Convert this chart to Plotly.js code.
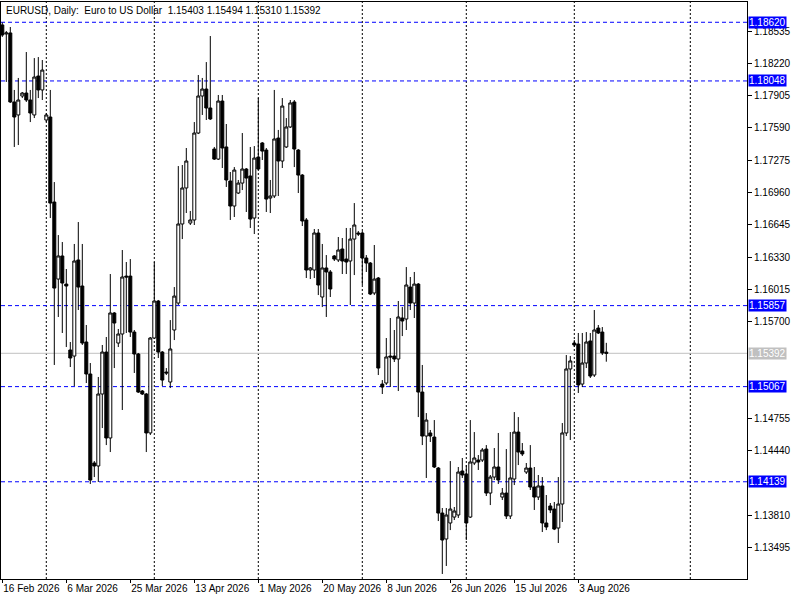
<!DOCTYPE html>
<html><head><meta charset="utf-8">
<script src="https://cdn.plot.ly/plotly-3.0.1.min.js"></script>
<style>html,body{margin:0;padding:0;background:#fff;} #chart{width:800px;height:600px;}</style>
</head><body><div id="chart"></div>
<script>
const chartTitle = "EURUSD, Daily:  Euro to US Dollar  1.15403 1.15494 1.15310 1.15392";
const firstBarDate = "2026-02-16";
const openP = [1.18594,1.18506,1.18516,1.17843,1.17716,1.17901,1.17930,1.17862,1.17716,1.18096,1.17960,1.17667,1.17696,1.16867,1.16116,1.16341,1.16067,1.15424,1.15365,1.16302,1.16048,1.15502,1.15190,1.14322,1.14293,1.14995,1.15404,1.14566,1.15785,1.15492,1.15580,1.16145,1.16145,1.15599,1.15385,1.15024,1.14995,1.14615,1.15541,1.15902,1.15404,1.15209,1.15112,1.15619,1.15882,1.16653,1.17004,1.16662,1.16692,1.17540,1.17901,1.17969,1.17784,1.17384,1.17286,1.17852,1.17404,1.17072,1.16828,1.16955,1.17052,1.17189,1.17121,1.16711,1.17306,1.17443,1.17374,1.16906,1.16926,1.17491,1.17267,1.17404,1.17599,1.17843,1.17374,1.17130,1.16692,1.16204,1.16204,1.16565,1.15941,1.16224,1.16185,1.16341,1.16302,1.16409,1.16311,1.16292,1.16506,1.16565,1.16565,1.16321,1.16272,1.15980,1.16126,1.15092,1.15102,1.15365,1.15365,1.15336,1.15736,1.15726,1.16038,1.15882,1.16067,1.15014,1.14585,1.14615,1.14575,1.14273,1.13834,1.13581,1.13737,1.13795,1.13815,1.14244,1.14215,1.13795,1.14322,1.14351,1.14351,1.14458,1.14029,1.14185,1.14283,1.13990,1.14029,1.13805,1.14166,1.14624,1.14439,1.14234,1.14273,1.14088,1.13990,1.14098,1.13737,1.13903,1.13873,1.13688,1.13922,1.14615,1.15239,1.15492,1.15482,1.15092,1.15297,1.15512,1.15180,1.15638,1.15599,1.15403];
const highP = [1.18618,1.18535,1.18574,1.17960,1.18077,1.17940,1.18330,1.17960,1.18271,1.18281,1.18252,1.17735,1.17960,1.17062,1.16545,1.16477,1.16214,1.15502,1.16458,1.16672,1.16458,1.15668,1.15297,1.14341,1.15161,1.15473,1.15551,1.16165,1.15794,1.15629,1.16399,1.16282,1.16311,1.15619,1.15395,1.15034,1.15005,1.15551,1.16282,1.15912,1.15414,1.15248,1.15716,1.16038,1.17218,1.17228,1.17394,1.16780,1.17647,1.18106,1.18077,1.18232,1.18486,1.17404,1.17911,1.17911,1.17628,1.17160,1.17208,1.17082,1.17540,1.17199,1.17404,1.17413,1.17881,1.17452,1.17394,1.17082,1.17960,1.17570,1.17881,1.17686,1.17862,1.17862,1.17384,1.17140,1.16711,1.16233,1.16604,1.16604,1.16458,1.16350,1.16204,1.16350,1.16526,1.16516,1.16614,1.16614,1.16857,1.16584,1.16584,1.16350,1.16282,1.16448,1.16136,1.15131,1.15541,1.15736,1.15619,1.15902,1.15843,1.16233,1.16136,1.16185,1.16077,1.15278,1.14809,1.14644,1.14741,1.14283,1.13883,1.13883,1.14341,1.13893,1.14283,1.14371,1.14302,1.14741,1.14624,1.14400,1.14468,1.14497,1.14205,1.14468,1.14615,1.14078,1.14458,1.14624,1.14819,1.14770,1.14517,1.14322,1.14497,1.14283,1.14205,1.14185,1.14010,1.13932,1.13942,1.14185,1.14712,1.15375,1.15365,1.15521,1.15590,1.15590,1.15599,1.15590,1.15814,1.15668,1.15648,1.15494];
const lowP = [1.18477,1.18038,1.17833,1.17404,1.17423,1.17881,1.17843,1.17647,1.17686,1.17881,1.17862,1.17647,1.16711,1.15278,1.15746,1.15590,1.15453,1.15258,1.15073,1.15814,1.15473,1.15102,1.14117,1.14185,1.14137,1.14663,1.14497,1.14429,1.15248,1.15453,1.14839,1.15590,1.15551,1.15200,1.15005,1.14985,1.14429,1.14595,1.15531,1.15346,1.15073,1.15180,1.15053,1.15521,1.15863,1.16506,1.16760,1.16643,1.16643,1.17530,1.17716,1.17667,1.17667,1.17277,1.17277,1.17199,1.17014,1.16692,1.16721,1.16945,1.16984,1.16770,1.16614,1.16555,1.17179,1.17277,1.16770,1.16760,1.16906,1.16926,1.17199,1.17394,1.17589,1.17208,1.16955,1.16633,1.16126,1.16116,1.16126,1.15960,1.15843,1.15746,1.15941,1.16292,1.16282,1.16165,1.16165,1.15863,1.16155,1.16536,1.16058,1.16185,1.15960,1.15960,1.15180,1.14995,1.15083,1.15063,1.15307,1.15024,1.15560,1.15619,1.15814,1.15736,1.14770,1.14497,1.14176,1.14527,1.14273,1.13756,1.13240,1.13318,1.13668,1.13766,1.13786,1.14176,1.13571,1.13786,1.14302,1.14254,1.14332,1.14000,1.13912,1.14156,1.14117,1.13961,1.13776,1.13776,1.14107,1.14302,1.14390,1.14215,1.14059,1.13864,1.13961,1.13649,1.13668,1.13834,1.13668,1.13542,1.13747,1.14585,1.14546,1.15453,1.15005,1.15063,1.15248,1.15151,1.15161,1.15580,1.15375,1.15310];
const closeP = [1.18496,1.18516,1.17843,1.17696,1.17862,1.17930,1.17862,1.17735,1.18086,1.17960,1.18154,1.17716,1.16857,1.16028,1.16341,1.16077,1.16048,1.15346,1.16292,1.16038,1.15492,1.15190,1.14156,1.14293,1.14995,1.15404,1.14566,1.15785,1.15687,1.15580,1.16136,1.16136,1.15599,1.15385,1.15014,1.14995,1.14615,1.15541,1.15902,1.15404,1.15131,1.15200,1.15434,1.15950,1.16653,1.17004,1.17267,1.16692,1.17540,1.17901,1.17969,1.17784,1.17677,1.17286,1.17852,1.17394,1.17082,1.16828,1.17179,1.17052,1.17189,1.17101,1.16701,1.17296,1.17189,1.17364,1.16896,1.16926,1.17482,1.17267,1.17803,1.17599,1.17833,1.17384,1.17130,1.16682,1.16204,1.16224,1.16565,1.16058,1.16224,1.16185,1.16019,1.16311,1.16399,1.16292,1.16282,1.16506,1.16643,1.16555,1.16321,1.16272,1.15970,1.16116,1.15248,1.15063,1.15356,1.15356,1.15336,1.15746,1.15707,1.16058,1.15882,1.16067,1.15014,1.14585,1.14741,1.14585,1.14283,1.13834,1.13571,1.13815,1.13873,1.13854,1.14234,1.14205,1.13737,1.14332,1.14371,1.14332,1.14449,1.14029,1.14185,1.14283,1.14156,1.14029,1.13805,1.14176,1.14624,1.14429,1.14410,1.14273,1.14088,1.13990,1.14098,1.13737,1.13698,1.13864,1.13678,1.13922,1.14615,1.15239,1.15317,1.15473,1.15083,1.15297,1.15502,1.15170,1.15619,1.15590,1.15395,1.15392];
const levelLines = [1.18620, 1.18048, 1.15857, 1.15067, 1.14139];
const bidPrice = 1.15392;
const priceTicks = [1.18535,1.18220,1.17905,1.17590,1.17275,1.16960,1.16645,1.16330,1.16015,1.15700,1.14755,1.14440,1.13810,1.13495];
const monthNames = ["Jan","Feb","Mar","Apr","May","Jun","Jul","Aug","Sep","Oct","Nov","Dec"];

// bar dates: the feed prints a bar for every day except Saturday
const barDates = [];
{
  let d = new Date(firstBarDate + "T00:00:00Z");
  while (barDates.length < closeP.length) {
    if (d.getUTCDay() !== 6) barDates.push(new Date(d));
    d = new Date(d.getTime() + 86400000);
  }
}
const idx = barDates.map((_, i) => i);
const labelStep = 16;
const tickIdx = idx.filter(i => i % labelStep === 0);
const tickTxt = tickIdx.map(i => { const d = barDates[i]; return d.getUTCDate() + " " + monthNames[d.getUTCMonth()] + " " + d.getUTCFullYear(); });
const monthStarts = idx.filter(i => i > 0 && barDates[i].getUTCMonth() !== barDates[i-1].getUTCMonth());
const extraGridBar = 172;
const gridBars = monthStarts.concat([extraGridBar]);

const FONT = "Liberation Sans, Arial, sans-serif";
const BLUE = "#0000ff";

const trace = {
  type: "candlestick", x: idx, open: openP, high: highP, low: lowP, close: closeP,
  increasing: {line: {color: "#000", width: 1}, fillcolor: "#fff"},
  decreasing: {line: {color: "#000", width: 1}, fillcolor: "#000"},
  whiskerwidth: 0, hoverinfo: "skip", showlegend: false
};

const shapes = [];
gridBars.forEach(b => shapes.push({type: "line", xref: "x", yref: "paper", x0: b, x1: b, y0: 0, y1: 1,
  line: {color: "#000", width: 1, dash: "2px,2px"}, layer: "below"}));
levelLines.forEach(p => shapes.push({type: "line", xref: "paper", yref: "y", x0: 0, x1: 1, y0: p, y1: p,
  line: {color: BLUE, width: 1, dash: "4px,3px"}, layer: "below"}));
shapes.push({type: "line", xref: "paper", yref: "y", x0: 0, x1: 1, y0: bidPrice, y1: bidPrice,
  line: {color: "#c0c0c0", width: 1}, layer: "below"});

const annotations = [];
levelLines.forEach(p => annotations.push({xref: "paper", yref: "y", x: 1, y: p, xanchor: "left", yanchor: "middle",
  xshift: 1, text: p.toFixed(5), showarrow: false, bgcolor: BLUE, borderpad: 0,
  font: {family: FONT, size: 10, color: "#fff"}}));
annotations.push({xref: "paper", yref: "y", x: 1, y: bidPrice, xanchor: "left", yanchor: "middle",
  xshift: 1, text: bidPrice.toFixed(5), showarrow: false, bgcolor: "#c0c0c0", borderpad: 0,
  font: {family: FONT, size: 10, color: "#fff"}});
annotations.push({xref: "paper", yref: "paper", x: 0, y: 1, xanchor: "left", yanchor: "top", xshift: 3, yshift: -1,
  text: chartTitle.replace(/  /g, "&nbsp; "), showarrow: false, font: {family: FONT, size: 10, color: "#000"}});

const layout = {
  width: 800, height: 600,
  margin: {l: 1, r: 53, t: 2, b: 21, pad: 0},
  paper_bgcolor: "#fff", plot_bgcolor: "#fff",
  boxgap: 0.25, boxgroupgap: 0,
  showlegend: false, dragmode: false,
  xaxis: {
    type: "linear", range: [-0.325, 186.175], rangeslider: {visible: false},
    showgrid: false, zeroline: false, showline: true, mirror: true, linecolor: "#000", linewidth: 1,
    tickmode: "array", tickvals: tickIdx, ticktext: tickTxt, ticks: "outside", ticklen: 3, tickcolor: "#000",
    tickangle: 0, ticklabelposition: "outside right", tickfont: {family: FONT, size: 10, color: "#000"}
  },
  yaxis: {
    side: "right", range: [1.131909, 1.188178], fixedrange: true,
    showgrid: false, zeroline: false, showline: true, mirror: true, linecolor: "#000", linewidth: 1,
    tickmode: "array", tickvals: priceTicks, tickformat: ".5f", ticks: "outside", ticklen: 4, tickcolor: "#000",
    tickfont: {family: FONT, size: 10, color: "#000"}
  },
  shapes: shapes, annotations: annotations
};

Plotly.newPlot("chart", [trace], layout, {staticPlot: true, displayModeBar: false});
</script>
</body></html>
